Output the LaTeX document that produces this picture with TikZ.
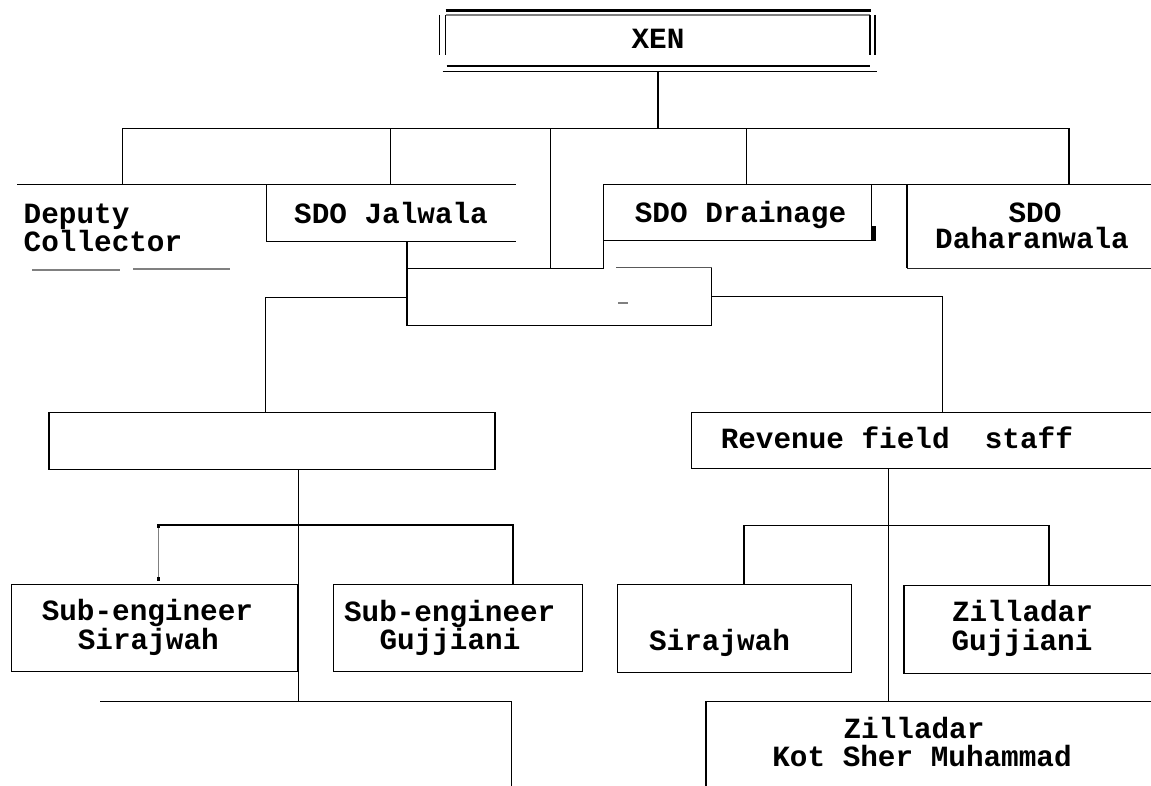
\documentclass[tikz,border=0pt]{standalone}
\usepackage{fontspec}
\newfontfamily\cour{Liberation Mono}
\usetikzlibrary{fit}
\begin{document}
\begin{tikzpicture}[x=0.02cm,y=-0.02cm,line width=0.85pt,
  txt/.style={font=\cour\bfseries\fontsize{16.7}{20}\selectfont, inner sep=0pt, anchor=base},
  box/.style={draw, inner sep=0pt, line width=0.85pt},
  faint/.style={line width=0.6pt, black!65},
  thick2/.style={line width=2pt}]
\useasboundingbox (0,0) rectangle (1151,786);

% ---------- XEN ----------
\node[txt] (xen) at (658,48.5) {XEN};
\draw[thick2] (445.7,10.3) -- (871,10.3);
\draw[faint, gray] (446,15) -- (870,15);
\draw[line width=1.1pt] (439.5,15) -- (439.5,55);
\draw (445.7,15) -- (445.7,55);
\draw (870,15) -- (870,55);
\draw[line width=1.1pt] (875,15) -- (875,55);
\draw (446.7,66) -- (870,66);
\draw (442.7,71.7) -- (877.3,71.7);
\coordinate (xenb) at (658,71.7);
\coordinate (busc) at (658,128.3);
\draw (xenb) -- (busc);

% ---------- bus ----------
\coordinate (busl) at (122.3,128.3);
\coordinate (busr) at (1069,128.3);
\draw (busl) -- (busr);
\foreach \x in {122.3,390.7,746.7,1069} \draw (\x,128.3) -- (\x,184.3);
\draw (550.7,128.3) -- (550.7,268.3) -- (603.5,268.3);

% level-2 lines
\draw (17,184.3) -- (516,184.3);
\draw (603.5,268.3) -- (603.5,184.3) -- (1151,184.3);

% ---------- Deputy Collector ----------
\node[txt, anchor=base west] (dep1) at (23,223.3) {Deputy};
\node[txt, anchor=base west] (dep2) at (23,251.7) {Collector};
\draw[faint, gray] (32,270) -- (120,270);
\draw[faint, gray] (133,269) -- (230,269);

% ---------- SDO Jalwala ----------
\draw (266.3,184.3) -- (266.3,241.7) -- (516,241.7);
\node[txt] (jal) at (391,223.3) {SDO Jalwala};

% ---------- SDO Drainage ----------
\draw (603.5,240.7) -- (871.7,240.7) -- (871.7,184.3);
\fill (871.2,226) rectangle (876,241.2);
\node[txt] (drn) at (740.5,222.7) {SDO Drainage};

% ---------- SDO Daharanwala ----------
\draw (907,184.3) -- (907,268.3);
\draw[line width=0.75pt, black!85] (907,268.3) -- (1151,268.3);
\node[txt] (dah1) at (1035,222.5) {SDO};
\node[txt] (dah2) at (1032,249) {Daharanwala};

% ---------- middle box ----------
\draw (407,241.7) -- (407,325.7) -- (711.5,325.7) -- (711.5,267.3);
\draw (407,268.3) -- (603.5,268.3);
\draw[faint] (616,267.3) -- (711.5,267.3);
\draw[faint, gray] (618,303) -- (628,303);
\coordinate (midl) at (407,297.7);
\coordinate (midr) at (711.5,296.5);
\draw (midl) -- (265.7,297.7) -- (265.7,412.3);
\draw[line width=0.75pt] (midr) -- (942.5,296.5) -- (942.5,412.3);

% ---------- empty box ----------
\node[box, fit={(49,412.3) (495,469.3)}] (emp) {};
\draw (298.3,469.3) -- (298.3,701.7);
\draw (158.3,525) -- (512.8,525) -- (512.8,584.3);
\draw[gray, line width=0.7pt] (158.3,525) -- (158.3,580);
\fill (156.6,523.5) rectangle (160,528);
\fill (156.6,577) rectangle (160,581);

% ---------- Sub-engineers ----------
\node[box, fit={(11.7,584.3) (297.5,671.7)}] (se1) {};
\node[txt] (se1a) at (147.4,620.7) {Sub-engineer};
\node[txt] (se1b) at (148.3,649) {Sirajwah};
\node[box, fit={(333.7,584.3) (582.5,671.7)}] (se2) {};
\node[txt] (se2a) at (449.7,621) {Sub-engineer};
\node[txt] (se2b) at (450,649) {Gujjiani};
\draw (100,701.7) -- (511.7,701.7) -- (511.7,786);

% ---------- Revenue field staff ----------
\draw[line width=0.75pt] (1151,412.3) -- (691.5,412.3) -- (691.5,468.3) -- (1151,468.3);
\node[txt, anchor=base west] (rev) at (720,448.3) {Revenue field\ \ staff};
\draw[line width=0.75pt] (888.3,468.3) -- (888.3,701.7);
\draw[line width=0.75pt] (744,584.3) -- (744,525.7) -- (1049,525.7) -- (1049,585.7);

% ---------- Zilladars ----------
\node[box, line width=0.75pt, fit={(617.5,584.3) (851.3,672.5)}] (sir2) {};
\node[txt] (sir2t) at (719.5,650.7) {Sirajwah};
\draw[line width=0.75pt] (1151,585.7) -- (904,585.7) -- (904,673.3) -- (1151,673.3);
\node[txt] (zg1) at (1022.5,621.7) {Zilladar};
\node[txt] (zg2) at (1022,650.7) {Gujjiani};
\draw[line width=0.75pt] (1151,701.7) -- (706,701.7) -- (706,786);
\node[txt] (zk1) at (914,738) {Zilladar};
\node[txt] (zk2) at (922,766.5) {Kot Sher Muhammad};
\end{tikzpicture}
\end{document}
